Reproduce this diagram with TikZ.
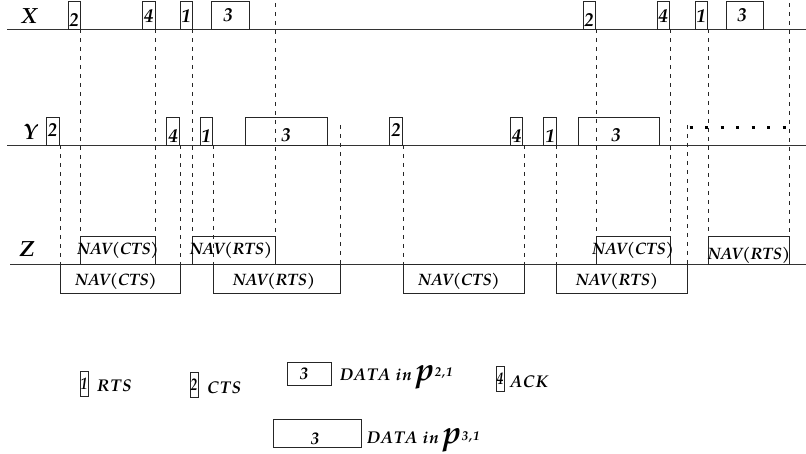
\documentclass[tikz,border=0pt]{standalone}
\usepackage{fontspec}
\setmainfont{texgyrepagella}[Extension=.otf, UprightFont=*-regular, ItalicFont=*-italic, BoldFont=*-bold, BoldItalicFont=*-bolditalic]
\usetikzlibrary{calc}

\newcommand\fs[1]{\fontsize{#1}{#1}\selectfont\bfseries\itshape}
\newcommand\fsw[1]{\fontsize{#1}{#1}\selectfont\bfseries\itshape\addfontfeatures{LetterSpace=6}}
% packet / NAV box: name, left, top, right, bottom
\newcommand\pbox[5]{%
  \node[frame, anchor=north west, minimum width={((#4)-(#2))*1pt},
        minimum height={((#5)-(#3))*1pt}] (#1) at (#2,#3) {};}

\tikzset{
  frame/.style={draw=black!85, line width=0.8pt, inner sep=0pt, outer sep=0pt},
  axis/.style={draw=black!80, line width=0.9pt},
  guide/.style={draw=black!85, line width=0.6pt, dash pattern=on 4pt off 5pt},
  lbl/.style={font=\fs{22}, inner sep=0pt},
  dig/.style={font=\fs{19}, inner sep=0pt},
  navtxt/.style={font=\fs{16.5}, inner sep=0pt},
  legtxt/.style={font=\fsw{17}, inner sep=0pt, anchor=base west},
  legdig/.style={font=\fs{17}, inner sep=0pt, xscale=0.8},
}

\begin{document}
\begin{tikzpicture}[x=1pt, y=-1pt]
\useasboundingbox (0,0) rectangle (806,454);

% station time lines
\draw[axis] (7,29) coordinate (xs) -- (806,29) coordinate (xe);
\draw[axis] (7,145) coordinate (ys) -- (806,145) coordinate (ye);
\draw[axis] (10,264) coordinate (zs) -- (806,264) coordinate (ze);

\node[lbl] (xlab) at (29,16) {X};
\node[lbl] (ylab) at (30,132) {Y};
\node[lbl] (zlab) at (27,249) {Z};

% frames sent by X
\pbox{xa2}{68}{1}{80}{29}      \node[dig] (xa2t) at (74,20) {2};
\pbox{xa4}{142}{1}{155}{29}    \node[dig] (xa4t) at (148.5,16) {4};
\pbox{xa1}{180}{1}{192}{29}    \node[dig] (xa1t) at (186,16) {1};
\pbox{xa3}{211}{1}{249}{29}    \node[dig] (xa3t) at (228,15) {3};
\pbox{xb2}{583}{1}{595.5}{29}  \node[dig] (xb2t) at (589,20) {2};
\pbox{xb4}{657}{1}{669}{29}    \node[dig] (xb4t) at (663,16) {4};
\pbox{xb1}{695}{1}{707.5}{29}  \node[dig] (xb1t) at (701,16) {1};
\pbox{xb3}{726}{1}{763}{29}    \node[dig] (xb3t) at (742,15) {3};

% frames sent by Y
\pbox{ya2}{46}{117}{59}{145}       \node[dig] (ya2t) at (52.5,130) {2};
\pbox{ya4}{166.5}{117}{179}{145}   \node[dig] (ya4t) at (173,136) {4};
\pbox{ya1}{200}{117}{212.5}{145}   \node[dig] (ya1t) at (206,136) {1};
\pbox{ya3}{245.5}{117}{327.5}{145} \node[dig] (ya3t) at (286,135) {3};
\pbox{yb2}{389.5}{117}{402.5}{145} \node[dig] (yb2t) at (396,130) {2};
\pbox{yb4}{510}{117}{522.5}{145}   \node[dig] (yb4t) at (516.5,136) {4};
\pbox{yb1}{543.5}{117}{556}{145}   \node[dig] (yb1t) at (550,136) {1};
\pbox{yb3}{578.5}{117}{659.5}{145} \node[dig] (yb3t) at (616,135) {3};
\draw[line width=3pt, dash pattern=on 3pt off 12.5pt] (689.5,128) coordinate (dots) -- (787,128);

% NAV periods at Z
\pbox{zu1}{80}{236}{155}{264}   \node[navtxt] (zu1t) at (118,250) {NAV(CTS)};
\pbox{zu2}{192}{236}{275}{264}  \node[navtxt] (zu2t) at (231,250) {NAV(RTS)};
\pbox{zu3}{596}{236}{670}{264}  \node[navtxt] (zu3t) at (633,250) {NAV(CTS)};
\pbox{zu4}{708}{236}{789}{264}  \node[navtxt] (zu4t) at (749,255) {NAV(RTS)};
\pbox{zl1}{60}{264}{180}{293}   \node[navtxt] (zl1t) at (116,281) {NAV(CTS)};
\pbox{zl2}{213}{264}{340}{293}  \node[navtxt] (zl2t) at (274,281) {NAV(RTS)};
\pbox{zl3}{403}{264}{524}{293}  \node[navtxt] (zl3t) at (459,281) {NAV(CTS)};
\pbox{zl4}{556}{264}{687}{293}  \node[navtxt] (zl4t) at (617,281) {NAV(RTS)};

% vertical guides
\coordinate (top) at (0,3);
\coordinate (mid) at (0,125);
\draw[guide] (zu1.north west |- xs) -- (zu1.north west);
\draw[guide] (zu1.north east |- xs) -- (zu1.north east);
\draw[guide] (zu2.north west |- xs) -- (zu2.north west);
\draw[guide] (zu2.north east |- top) -- (zu2.north east);
\draw[guide] (zl1.north west |- ys) -- (zl1.north west);
\draw[guide] (zl1.north east |- ys) -- (zl1.north east);
\draw[guide] (zl2.north west |- ys) -- (zl2.north west);
\draw[guide] (zl2.north east |- mid) -- (zl2.north east);
\draw[guide] (zl3.north west |- ys) -- (zl3.north west);
\draw[guide] (zl3.north east |- ys) -- (zl3.north east);
\draw[guide] (zl4.north west |- ys) -- (zl4.north west);
\draw[guide] (zu3.north west |- xs) -- (zu3.north west);
\draw[guide] (zu3.north east |- xs) -- (zu3.north east);
\draw[guide] (zl4.north east |- mid) -- (zl4.north east);
\draw[guide] (zu4.north west |- xs) -- (zu4.north west);
\draw[guide] (zu4.north east |- top) -- (zu4.north east);

% legend
\pbox{l1}{80}{371}{88}{396}   \node[legdig] (l1t) at (84,384) {1};
\node[legtxt] (l1d) at (97,391) {RTS};
\pbox{l2}{190}{372}{198}{397} \node[legdig] (l2t) at (194,385) {2};
\node[legtxt] (l2d) at (207,393) {CTS};
\pbox{l3}{287}{362}{331}{385} \node[font=\fs{17}, inner sep=0pt] (l3t) at (304,374) {3};
\node[legtxt] (l3d) at (340,380) {DATA in {\fs{32}p}\raisebox{3pt}{\fs{13}2,1}};
\pbox{l4}{496}{366}{504}{391} \node[legdig] (l4t) at (500,379) {4};
\node[legtxt] (l4d) at (510,388) {ACK};
\pbox{l5}{273}{419}{361}{447} \node[font=\fs{17}, inner sep=0pt] (l5t) at (315,439) {3};
\node[legtxt] (l5d) at (367,443) {DATA in {\fs{32}p}\raisebox{3pt}{\fs{13}3,1}};
\end{tikzpicture}
\end{document}
